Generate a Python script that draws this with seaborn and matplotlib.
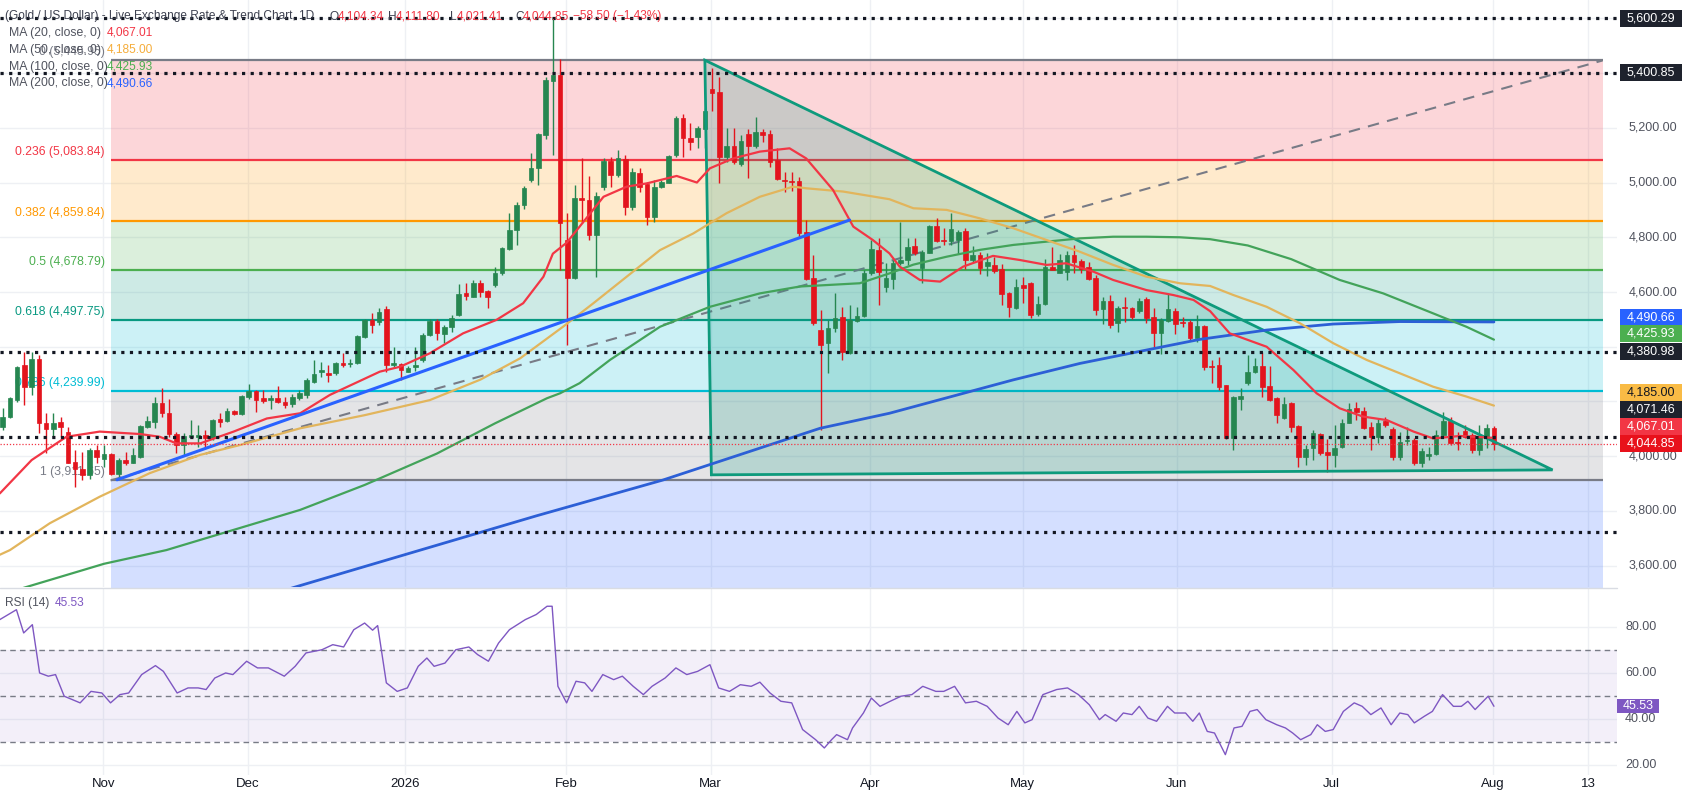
import numpy as np
import seaborn as sns
import matplotlib.pyplot as plt
import matplotlib.transforms as mtransforms
from matplotlib.patches import Polygon, Rectangle
from matplotlib.lines import Line2D

# ---- daily candles (bar 0 = first candle on the left, mid Oct 2025 -> 31 Jul 2026)
opens = [4108, 4142, 4206, 4333, 4252, 4354, 4123, 4098, 4126, 4087,
         3980, 3952, 3931, 4023, 3989, 4008, 3935, 3986, 3977, 3998,
         4106, 4126, 4196, 4159, 4083, 4041, 4069, 4071, 4078, 4065,
         4135, 4130, 4165, 4154, 4218, 4240, 4211, 4205, 4211, 4199,
         4190, 4212, 4224, 4272, 4309, 4303, 4303, 4342, 4337, 4339,
         4437, 4498, 4491, 4537, 4333, 4337, 4309, 4325, 4352, 4443,
         4495, 4447, 4473, 4516, 4595, 4583, 4632, 4605, 4626, 4668,
         4756, 4827, 4918, 5009, 5052, 5174, 5372, 5393, 4790, 4650,
         4942, 4936, 4808, 4982, 5080, 5027, 5085, 4912, 5034, 4995,
         4875, 4985, 5000, 5101, 5235, 5162, 5168, 5194, 5341, 5332,
         5095, 5134, 5068, 5177, 5134, 5186, 5177, 5082, 5007, 5005,
         5007, 4820, 4650, 4461, 4412, 4467, 4508, 4376, 4495, 4512,
         4668, 4753, 4620, 4646, 4705, 4717, 4768, 4686, 4741, 4841,
         4788, 4788, 4790, 4824, 4717, 4735, 4695, 4699, 4683, 4595,
         4540, 4626, 4634, 4520, 4556, 4693, 4670, 4674, 4735, 4715,
         4690, 4650, 4537, 4568, 4486, 4544, 4540, 4532, 4573, 4510,
         4451, 4495, 4532, 4488, 4492, 4431, 4476, 4327, 4333, 4260,
         4065, 4208, 4266, 4309, 4330, 4257, 4211, 4139, 4196, 4110,
         3996, 4029, 4081, 4014, 4005, 4035, 4123, 4175, 4166, 4108,
         4071, 4130, 4098, 3998, 4055, 4059, 3974, 4001, 4008, 4077,
         4130, 4050, 4093, 4077, 4023, 4065, 4104.34]
highs = [4175, 4218, 4330, 4382, 4382, 4370, 4157, 4157, 4145, 4108,
         4023, 4017, 4029, 4041, 4041, 4011, 3992, 4017, 4029, 4114,
         4147, 4215, 4248, 4208, 4090, 4084, 4132, 4114, 4096, 4135,
         4157, 4175, 4169, 4224, 4264, 4242, 4242, 4224, 4257, 4218,
         4228, 4242, 4285, 4352, 4345, 4333, 4346, 4376, 4354, 4443,
         4500, 4525, 4540, 4549, 4400, 4342, 4330, 4400, 4449, 4500,
         4500, 4479, 4516, 4629, 4632, 4644, 4644, 4607, 4693, 4766,
         4887, 4930, 4987, 5109, 5182, 5387, 5600, 5450, 4887, 4991,
         5088, 5024, 4967, 5088, 5092, 5119, 5101, 5052, 5052, 5003,
         5009, 5009, 5101, 5243, 5250, 5216, 5207, 5271, 5417, 5387,
         5198, 5198, 5174, 5194, 5241, 5194, 5192, 5125, 5040, 5040,
         5019, 4863, 4735, 4534, 4498, 4598, 4547, 4553, 4547, 4680,
         4790, 4796, 4705, 4717, 4857, 4796, 4796, 4754, 4845, 4869,
         4833, 4888, 4827, 4833, 4768, 4747, 4741, 4729, 4702, 4601,
         4646, 4656, 4638, 4585, 4719, 4766, 4739, 4751, 4772, 4719,
         4711, 4662, 4583, 4589, 4549, 4583, 4546, 4577, 4581, 4540,
         4504, 4593, 4540, 4510, 4498, 4516, 4480, 4352, 4361, 4260,
         4220, 4248, 4370, 4358, 4382, 4330, 4218, 4218, 4199, 4114,
         4041, 4096, 4084, 4062, 4114, 4135, 4193, 4199, 4181, 4126,
         4135, 4142, 4108, 4090, 4108, 4065, 4029, 4035, 4096, 4163,
         4142, 4090, 4114, 4084, 4114, 4118, 4111.80]
lows = [4096, 4138, 4199, 4187, 4224, 4084, 4011, 4072, 4072, 3974,
        3889, 3913, 3916, 3974, 3962, 3931, 3925, 3968, 3974, 3992,
        4102, 4102, 4145, 4072, 4011, 4005, 4065, 4035, 4029, 4059,
        4108, 4126, 4151, 4151, 4208, 4163, 4193, 4171, 4193, 4175,
        4180, 4205, 4211, 4266, 4291, 4272, 4297, 4327, 4327, 4337,
        4431, 4449, 4479, 4309, 4327, 4279, 4309, 4313, 4346, 4439,
        4425, 4413, 4455, 4512, 4571, 4581, 4583, 4540, 4620, 4662,
        4753, 4772, 4902, 5003, 4991, 5158, 5100, 4680, 4406, 4646,
        4851, 4790, 4656, 4973, 4985, 5021, 4881, 4900, 4967, 4845,
        4857, 4979, 4997, 5095, 5095, 5119, 5125, 5125, 5263, 5000,
        5076, 5068, 5061, 5015, 5125, 5149, 5056, 5009, 4967, 4970,
        4802, 4644, 4480, 4096, 4303, 4455, 4352, 4374, 4492, 4510,
        4662, 4553, 4601, 4610, 4700, 4699, 4735, 4634, 4741, 4784,
        4772, 4772, 4739, 4683, 4711, 4666, 4659, 4668, 4553, 4510,
        4537, 4559, 4504, 4512, 4553, 4680, 4668, 4644, 4668, 4671,
        4644, 4516, 4483, 4467, 4455, 4492, 4500, 4525, 4488, 4400,
        4374, 4492, 4447, 4473, 4425, 4419, 4315, 4266, 4242, 4062,
        4023, 4169, 4260, 4303, 4218, 4203, 4123, 4135, 4090, 3962,
        3968, 3986, 4005, 3944, 3962, 4029, 4120, 4132, 4098, 4023,
        4047, 4108, 3986, 3986, 4041, 3968, 3962, 3986, 4005, 4071,
        4041, 4023, 4065, 4011, 4005, 4029, 4021.41]
closes = [4145, 4211, 4327, 4252, 4354, 4123, 4098, 4123, 4108, 3977,
          3952, 3931, 4023, 3998, 4008, 3935, 3986, 3977, 4005, 4110,
          4130, 4196, 4159, 4081, 4041, 4074, 4078, 4078, 4065, 4132,
          4126, 4165, 4154, 4220, 4240, 4205, 4203, 4211, 4199, 4187,
          4215, 4230, 4278, 4300, 4315, 4297, 4342, 4333, 4342, 4439,
          4498, 4480, 4528, 4333, 4339, 4315, 4321, 4333, 4443, 4495,
          4449, 4473, 4504, 4593, 4585, 4632, 4601, 4581, 4668, 4759,
          4827, 4918, 4979, 5052, 5177, 5375, 5393, 4851, 4650, 4942,
          4936, 4808, 4951, 5080, 5027, 5088, 4912, 5040, 4985, 4875,
          4985, 5003, 5097, 5235, 5162, 5149, 5198, 5263, 5326, 5095,
          5134, 5076, 5153, 5134, 5186, 5174, 5076, 5012, 5005, 5003,
          4814, 4646, 4486, 4406, 4467, 4504, 4382, 4498, 4512, 4668,
          4756, 4674, 4652, 4707, 4717, 4766, 4744, 4747, 4841, 4788,
          4786, 4829, 4820, 4717, 4735, 4687, 4711, 4678, 4593, 4544,
          4619, 4613, 4516, 4556, 4690, 4680, 4717, 4735, 4711, 4683,
          4646, 4534, 4568, 4479, 4540, 4543, 4507, 4568, 4504, 4451,
          4498, 4537, 4483, 4486, 4431, 4476, 4327, 4325, 4254, 4065,
          4215, 4220, 4309, 4330, 4254, 4205, 4151, 4191, 4108, 3996,
          4025, 4086, 4013, 4005, 4029, 4120, 4171, 4163, 4102, 4069,
          4122, 4114, 3998, 4053, 4057, 3974, 4020, 4008, 4077, 4130,
          4047, 4049, 4071, 4023, 4069, 4103.35, 4044.85]

# ---- moving averages at bar positions
ma20_x = [-0.4, 4.0, 8.8, 13.4, 19.0, 21.7, 24.0, 27.3, 31.9, 36.5,
          41.1, 45.2, 52.1, 54.9, 59.0, 63.6, 68.2, 71.9, 74.7, 76.0,
          77.9, 79.7, 83.0, 86.2, 89.0, 93.1, 95.9, 97.7, 100.9, 104.6,
          108.7, 111.0, 114.7, 117.5, 120.2, 122.5, 123.9, 126.7, 129.5, 132.7,
          136.8, 140.5, 144.2, 146.9, 150.7, 153.4, 158.0, 161.7, 164.5, 166.8,
          169.5, 174.6, 178.3, 181.5, 184.7, 187.9, 191.2, 194.9, 197.6, 201.3, 206.0]
ma20_y = [3864, 3986, 4071, 4090, 4081, 4071, 4047, 4047, 4090, 4138,
          4157, 4224, 4309, 4327, 4376, 4449, 4498, 4559, 4656, 4740,
          4780, 4839, 4948, 4985, 4997, 5024, 5000, 5052, 5088, 5113,
          5125, 5088, 4973, 4839, 4790, 4741, 4693, 4644, 4638, 4693,
          4732, 4717, 4699, 4705, 4674, 4644, 4607, 4589, 4571, 4530,
          4449, 4400, 4315, 4230, 4175, 4145, 4132, 4090, 4065, 4074, 4067.01]
ma50_x = [-0.4, 1.0, 6.5, 13.4, 20.3, 27.3, 32.8, 41.1, 50.0, 59.0,
          66.0, 71.5, 77.5, 81.6, 86.2, 90.8, 95.4, 100.0, 104.6, 109.2,
          111.0, 116.1, 122.5, 125.8, 130.4, 135.0, 139.6, 144.2, 148.8, 153.4,
          158.0, 162.6, 166.8, 170.0, 174.6, 179.2, 183.8, 188.4, 193.0, 197.6,
          202.2, 206.0]
ma50_y = [3640, 3657, 3755, 3852, 3938, 4005, 4041, 4102, 4150, 4205,
          4280, 4358, 4475, 4559, 4656, 4753, 4814, 4888, 4948, 4985,
          4979, 4967, 4939, 4906, 4900, 4869, 4833, 4790, 4747, 4699,
          4656, 4632, 4622, 4589, 4546, 4486, 4413, 4352, 4303, 4254,
          4218, 4185.00]
ma100_x = [-0.4, 3.0, 14.0, 22.6, 41.1, 50.0, 60.0, 68.0, 75.2, 77.0,
           79.7, 83.9, 90.8, 97.7, 104.6, 110.1, 118.4, 122.5, 125.8, 130.4,
           135.0, 139.6, 144.2, 148.8, 153.4, 158.0, 162.6, 166.8, 172.0, 178.0,
           184.7, 190.7, 197.6, 202.2, 206.0]
ma100_y = [3490, 3520, 3607, 3657, 3804, 3895, 4010, 4120, 4212, 4230,
           4267, 4352, 4473, 4546, 4595, 4620, 4632, 4668, 4700, 4729,
           4754, 4772, 4784, 4796, 4802, 4802, 4800, 4793, 4770, 4720,
           4644, 4595, 4522, 4473, 4425.93]
ma200_x = [34.0, 40.4, 73.7, 91.2, 112.9, 122.5, 139.6, 148.8, 158.0, 165.4,
           174.6, 183.8, 193.0, 206.0]
ma200_y = [3470, 3522, 3782, 3913, 4102, 4157, 4279, 4339, 4388, 4427,
           4461, 4483, 4492, 4490.66]

# ---- RSI(14)
rsi_pos = [-0.4, 1.9, 2.9, 4.1, 5.1, 6.3, 7.3, 8.5, 10.7, 12.2,
           13.7, 14.9, 16.2, 17.4, 19.2, 21.1, 22.2, 24.1, 25.6, 27.0,
           28.1, 29.3, 30.8, 31.8, 33.7, 35.2, 36.7, 38.9, 40.4, 41.9,
           44.1, 45.6, 47.1, 48.5, 50.0, 51.1, 51.8, 53.0, 54.5, 55.9,
           57.4, 58.6, 59.6, 61.1, 62.6, 64.4, 65.6, 67.1, 68.5, 70.0,
           72.2, 73.7, 75.2, 75.9, 76.7, 77.9, 79.2, 80.4, 81.4, 82.9,
           84.4, 85.6, 87.1, 88.5, 89.7, 91.5, 93.0, 94.5, 96.0, 97.7,
           98.9, 100.4, 101.9, 103.4, 104.6, 106.0, 107.5, 109.0, 110.5, 112.3,
           113.5, 114.5, 115.2, 116.7, 117.4, 118.9, 120.0, 121.2, 122.6, 124.1,
           125.6, 127.1, 128.9, 130.0, 131.5, 133.0, 134.5, 136.0, 137.5, 138.9,
           140.1, 141.2, 142.2, 143.7, 145.6, 147.1, 148.6, 150.1, 151.5, 152.3,
           153.8, 154.8, 156.0, 157.0, 158.2, 159.4, 160.9, 161.9, 163.4, 164.4,
           165.3, 166.4, 167.4, 168.9, 170.1, 171.2, 172.3, 173.3, 174.5, 176.0,
           177.2, 178.2, 179.3, 180.7, 181.6, 182.7, 183.8, 185.2, 186.7, 187.8,
           189.0, 190.4, 191.8, 193.0, 194.1, 195.0, 196.4, 197.5, 198.9, 200.4,
           201.5, 202.4, 203.4, 205.2, 206.0]
rsi_val = [83.2, 87.5, 77.4, 81.0, 60.0, 58.6, 59.3, 49.9, 47.0, 52.0,
           51.3, 47.0, 50.6, 51.3, 59.3, 63.2, 60.7, 51.3, 53.5, 53.5,
           52.8, 57.8, 60.0, 59.3, 65.1, 62.2, 62.2, 58.6, 62.9, 68.7,
           70.1, 72.3, 71.3, 78.8, 81.7, 78.6, 80.6, 55.7, 52.0, 53.5,
           62.9, 66.5, 62.9, 64.3, 70.1, 71.3, 68.0, 65.1, 73.0, 78.8,
           83.2, 85.4, 89.0, 89.0, 54.2, 47.0, 56.4, 55.7, 52.0, 59.3,
           57.1, 58.6, 54.2, 50.6, 54.2, 57.8, 62.2, 59.3, 60.7, 63.6,
           53.5, 52.0, 54.9, 54.2, 56.0, 51.3, 47.7, 47.0, 35.4, 31.0,
           27.4, 31.0, 33.2, 31.0, 36.1, 42.6, 49.1, 45.5, 47.7, 49.9,
           50.6, 54.2, 52.0, 52.0, 54.2, 47.0, 47.7, 45.5, 40.4, 37.5,
           43.3, 38.3, 39.7, 50.6, 52.8, 53.5, 50.6, 46.2, 39.7, 41.9,
           39.0, 42.6, 41.9, 45.5, 40.4, 39.0, 45.5, 42.6, 42.6, 39.0,
           42.6, 34.6, 33.9, 24.5, 36.1, 36.8, 43.3, 44.1, 39.7, 37.5,
           36.1, 33.9, 31.0, 33.2, 37.5, 34.6, 35.4, 43.3, 47.0, 45.5,
           41.9, 44.8, 37.5, 42.6, 41.9, 38.3, 41.2, 43.3, 50.6, 45.5,
           45.5, 47.7, 44.1, 49.9, 45.53]

# ---- drawings on the chart
fib_ratios = ["0", "0.236", "0.382", "0.5", "0.618", "0.786", "1"]
fib_levels = [5445.95, 5083.84, 4859.84, 4678.79, 4497.75, 4239.99, 3911.65]
fib_ext = 2963.6  # 1.618 level, lower edge of the blue zone
fib_span = (14.9, 221.0)
hline_levels = [5600.29, 5400.85, 4380.98, 4071.46, 3722.22]
trend_x = [15.8, 117.0]
trend_y = [3914, 4863]
tri_x = [97.0, 97.9, 214.1]
tri_y = [5447, 3932, 3950]

time_labels = ["Nov", "Dec", "2026", "Feb", "Mar", "Apr", "May", "Jun", "Jul", "Aug", "13"]
time_pos = [13.9, 33.9, 55.6, 77.8, 97.8, 119.8, 140.9, 162.2, 183.6, 205.9, 219.0]

scale_values = [5600.29, 5400.85, 4490.66, 4425.93, 4380.98, 4185.00, 4071.46, 4067.01, 4044.85]
scale_shown_at = [5600.29, 5400.85, 4506.9, 4446.6, 4380.98, 4232.5, 4169.7, 4106.8, 4044.85]
hidden_grid_labels = [5600, 5400, 4400, 4200]

# ---- colours
UP, DOWN = "#268650", "#e3141d"
C_MA20, C_MA50, C_MA100, C_MA200 = "#f23645", "#e2b55c", "#43a35a", "#2c5fd6"
fib_line_cols = ["#787b86", "#f23645", "#ff9800", "#4caf50", "#089981", "#00bcd4", "#787b86"]
fib_fill_cols = ["#f23645", "#ff9800", "#4caf50", "#089981", "#00bcd4", "#787b86", "#2962ff"]
box_cols = ["#1e222d", "#1e222d", "#2962ff", "#4caf50", "#1e222d", "#f9bb45", "#1e222d", "#f23645", "#e8111b"]
box_text = ["white", "white", "white", "white", "white", "#131722", "white", "white", "white"]
GRID = "#eef0f4"
TXT = "#50535e"

sns.set_theme(style="white")
plt.rcParams["font.family"] = ["Liberation Sans", "DejaVu Sans"]

W, H = 1682, 797
fig = plt.figure(figsize=(W / 100, H / 100), dpi=100)
fig.patch.set_facecolor("white")


def fx(px):
    return px / W


def fy(py):
    return 1 - py / H


RIGHT = 1617
ax = fig.add_axes([0, fy(587), fx(RIGHT), 587 / H])
axr = fig.add_axes([0, fy(775), fx(RIGHT), (775 - 589) / H])

XLIM = (-0.37, 223.0)
YLIM = (3522.2, 5666.9)
RLIM = (15.65, 96.5)

# grid
for t in time_pos:
    ax.axvline(t, color=GRID, lw=1, zorder=0)
    axr.axvline(t, color=GRID, lw=1, zorder=0)
price_grid = list(range(3600, 5601, 200))
for v in price_grid:
    ax.axhline(v, color=GRID, lw=1, zorder=0)
for v in [20, 40, 60, 80]:
    axr.axhline(v, color=GRID, lw=1, zorder=0)

# fibonacci retracement
bounds = fib_levels + [fib_ext]
for i, c in enumerate(fib_fill_cols):
    ax.fill_between(fib_span, bounds[i + 1], bounds[i], color=c, alpha=0.2, lw=0, zorder=1)
for lvl, r, c in zip(fib_levels, fib_ratios, fib_line_cols):
    ax.hlines(lvl, fib_span[0], fib_span[1], color=c, lw=1.6, zorder=2)
    ax.annotate(f"{r} ({lvl:,.2f})", xy=(fib_span[0], lvl), xytext=(-6, 2),
                textcoords="offset pixels", ha="right", va="bottom",
                color=c, fontsize=8.8, zorder=2)
ax.plot([fib_span[0], fib_span[1]], [fib_levels[-1], fib_levels[0]],
        color="#787b86", lw=1.5, ls=(0, (5.5, 4)), zorder=2)

# triangle
tri = list(zip(tri_x, tri_y))
ax.add_patch(Polygon(tri, closed=True, facecolor="#089981", alpha=0.2, lw=0, zorder=2))
ax.add_patch(Polygon(tri, closed=True, fill=False, edgecolor="#0e9a7c", lw=2, zorder=5))

# candles
xb = np.arange(len(closes))
o, h, l, c = map(np.asarray, (opens, highs, lows, closes))
cols = np.where(c >= o, UP, DOWN)
ax.vlines(xb, l, h, colors=cols, lw=1.0, zorder=4)
body = np.maximum(np.abs(c - o), 3)
ax.bar(xb, body, bottom=np.minimum(o, c), width=0.64, color=cols,
       edgecolor=cols, linewidth=0.5, zorder=4)

# moving averages and trend line
for mx, my, col, lw in [(ma200_x, ma200_y, C_MA200, 2.0), (ma100_x, ma100_y, C_MA100, 1.6),
                        (ma50_x, ma50_y, C_MA50, 1.6), (ma20_x, ma20_y, C_MA20, 1.6)]:
    sns.lineplot(x=mx, y=my, ax=ax, color=col, lw=lw, estimator=None, sort=False,
                 legend=False, zorder=5)
ax.plot(trend_x, trend_y, color="#2962ff", lw=2.2, zorder=5)

# horizontal levels
for v in hline_levels:
    ax.axhline(v, color="#131722", lw=2.3, ls=(0, (1, 1.7)), zorder=6)
ax.axhline(closes[-1], color="#f23645", lw=0.9, ls=(0, (1, 1.5)), zorder=6)

ax.set_xlim(*XLIM)
ax.set_ylim(*YLIM)
ax.set_xticks([])
ax.set_yticks([])
ax.set_xlabel("")
ax.set_ylabel("")

# price scale
blend = mtransforms.blended_transform_factory(ax.transAxes, ax.transData)
pu = (YLIM[1] - YLIM[0]) / 587
for v in price_grid:
    if v in hidden_grid_labels:
        continue  # covered by the coloured price boxes
    ax.text(1629 / RIGHT, v, f"{v:,.2f}", transform=blend, ha="left", va="center",
            fontsize=9, color=TXT, clip_on=False, zorder=8)
for val, yy, bc, tc in zip(scale_values, scale_shown_at, box_cols, box_text):
    ax.add_patch(Rectangle((1620 / RIGHT, yy - 8.5 * pu), 62 / RIGHT, 17 * pu, transform=blend,
                           facecolor=bc, edgecolor="none", clip_on=False, zorder=9))
    ax.text(1651 / RIGHT, yy, f"{val:,.2f}", transform=blend, ha="center", va="center",
            fontsize=9, color=tc, clip_on=False, zorder=10)

# RSI pane
axr.axhspan(30, 70, color="#7e57c2", alpha=0.09, lw=0, zorder=1)
for v in [70, 50, 30]:
    axr.axhline(v, color="#787b86", lw=1, ls=(0, (4, 3)), zorder=2)
sns.lineplot(x=rsi_pos, y=rsi_val, ax=axr, color="#7e57c2", lw=1.0, estimator=None,
             sort=False, legend=False, zorder=3)
axr.set_xlim(*XLIM)
axr.set_ylim(*RLIM)
axr.set_yticks([])
axr.set_xlabel("")
axr.set_ylabel("")
axr.set_xticks(time_pos)
axr.set_xticklabels(time_labels)
axr.tick_params(axis="x", length=0, pad=2, labelsize=9.5, labelcolor="#131722")

rblend = mtransforms.blended_transform_factory(axr.transAxes, axr.transData)
ru = (RLIM[1] - RLIM[0]) / (775 - 589)
for v in [80, 60, 40, 20]:
    axr.text(1625 / RIGHT, v, f"{v:.2f}", transform=rblend, ha="left", va="center",
             fontsize=9, color=TXT, clip_on=False)
axr.add_patch(Rectangle((1617 / RIGHT, rsi_val[-1] - 7.2 * ru), 42 / RIGHT, 14.4 * ru,
                        transform=rblend, facecolor="#7e57c2", edgecolor="none",
                        clip_on=False, zorder=9))
axr.text(1638 / RIGHT, rsi_val[-1], f"{rsi_val[-1]:.2f}", transform=rblend, ha="center",
         va="center", fontsize=9, color="white", clip_on=False, zorder=10)

for a in (ax, axr):
    for s in a.spines.values():
        s.set_visible(False)
    a.set_facecolor("none")

fig.add_artist(Line2D([0, fx(RIGHT)], [fy(588), fy(588)], color="#d9dce3", lw=1))

# legends (top left)
FS = 8.6
fig.text(fx(5), fy(16.5), "(Gold / US Dollar) - Live Exchange Rate & Trend Chart, 1D",
         color="#3d4150", fontsize=FS, va="center")
for lab, lx, val, vx in [("O", 330, opens[-1], 338), ("H", 388, highs[-1], 396),
                         ("L", 450, lows[-1], 457), ("C", 515, closes[-1], 523)]:
    fig.text(fx(lx), fy(16.5), lab, color="#3d4150", fontsize=FS, va="center")
    fig.text(fx(vx), fy(16.5), f"{val:,.2f}", color="#f23645", fontsize=FS, va="center")
chg = closes[-1] - closes[-2]
fig.text(fx(573), fy(16.5), f"\u2212{abs(chg):.2f} (\u2212{abs(chg) / closes[-2] * 100:.2f}%)",
         color="#f23645", fontsize=FS, va="center")

ma_rows = [("MA (20, close, 0)", ma20_y[-1], C_MA20), ("MA (50, close, 0)", ma50_y[-1], "#f5ad3b"),
           ("MA (100, close, 0)", ma100_y[-1], "#4caf50"), ("MA (200, close, 0)", ma200_y[-1], "#2962ff")]
for k, (lab, val, col) in enumerate(ma_rows):
    yy = [32.7, 50.0, 66.7, 83.3][k]
    fig.text(fx(9), fy(yy), lab, color=TXT, fontsize=8.8, va="center")
    fig.text(fx(107), fy(yy), f"{val:,.2f}", color=col, fontsize=8.6, va="center")

fig.text(fx(5), fy(603), "RSI (14)", color=TXT, fontsize=FS, va="center")
fig.text(fx(55), fy(603), f"{rsi_val[-1]:.2f}", color="#7e57c2", fontsize=FS, va="center")

fig.savefig("out.png", dpi=100, facecolor="white")
